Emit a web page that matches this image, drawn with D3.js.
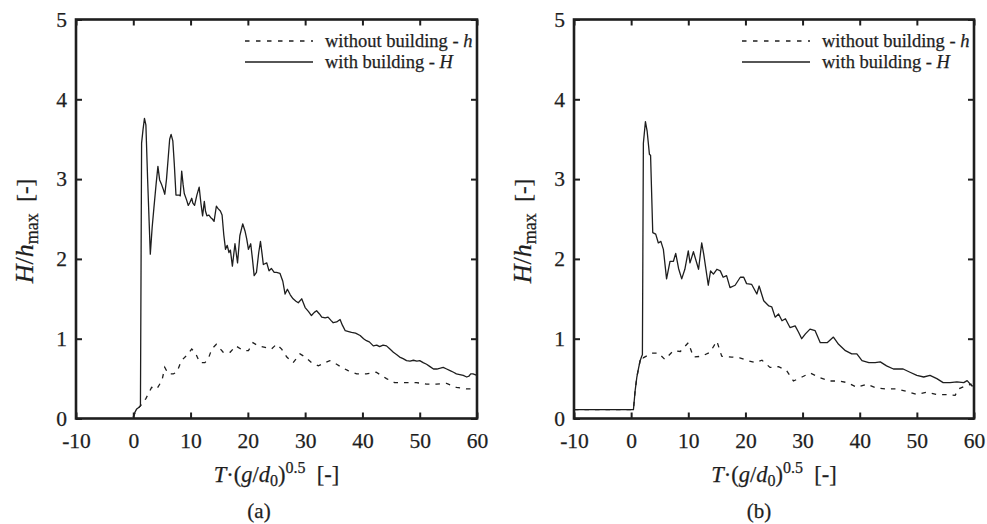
<!DOCTYPE html>
<html><head><meta charset="utf-8">
<script src="https://cdn.jsdelivr.net/npm/d3@7"></script>
<style>
body{margin:0;background:#fff;}
text{font-family:"Liberation Serif","Times New Roman","DejaVu Serif",serif;fill:#1e1e1e;stroke:#1e1e1e;stroke-width:0.25px;}
</style></head><body>
<svg id="c" width="987" height="524" xmlns="http://www.w3.org/2000/svg"></svg>
<script>
// ---------- data ----------
const xTicks = [-10, 0, 10, 20, 30, 40, 50, 60];
const yTicks = [0, 1, 2, 3, 4, 5];
const legendText = ["without building - ", "with building - "];
const legendSymbol = ["h", "H"];
const panelLabels = ["(a)", "(b)"];

// panel (a): with building H (solid)
const aWith = [[0,0.02],[0.3,0.08],[0.6,0.12],[1.0,0.14],[1.25,0.16],[1.45,3.45],[1.7,3.62],[1.95,3.76],[2.2,3.68],[2.5,3.0],[2.97,2.06],[3.3,2.4],[3.6,2.64],[4.0,2.95],[4.3,3.16],[4.6,2.99],[4.9,2.94],[5.2,2.88],[5.5,2.81],[5.8,3.0],[6.1,3.27],[6.35,3.5],[6.6,3.56],[6.9,3.48],[7.15,3.2],[7.45,2.8],[8.0,2.8],[8.2,2.79],[8.45,3.1],[8.7,2.93],[8.9,2.82],[9.3,2.74],[9.6,2.67],[9.9,2.71],[10.2,2.76],[10.4,2.7],[10.7,2.67],[11.1,2.8],[11.5,2.9],[11.8,2.7],[12.1,2.54],[12.4,2.72],[12.6,2.6],[12.85,2.54],[13.2,2.55],[13.5,2.52],[13.8,2.5],[14.1,2.47],[14.5,2.66],[14.8,2.63],[15.2,2.6],[15.5,2.55],[15.8,2.3],[16.1,2.12],[16.4,2.17],[16.7,2.08],[16.95,2.11],[17.3,1.91],[17.75,2.19],[18.2,1.95],[18.6,2.29],[19.1,2.44],[19.5,2.35],[19.8,2.25],[20.1,2.12],[20.5,2.19],[20.8,2.0],[21.1,1.79],[21.5,1.83],[21.9,2.08],[22.2,2.22],[22.5,2.05],[22.7,1.93],[23.3,1.95],[23.7,1.85],[24.1,1.88],[24.6,1.83],[25.0,1.83],[25.6,1.82],[26.1,1.72],[26.5,1.56],[26.9,1.62],[27.4,1.55],[27.9,1.5],[28.4,1.47],[28.8,1.45],[29.4,1.5],[30.0,1.39],[30.6,1.34],[31.1,1.29],[31.6,1.33],[32.0,1.35],[32.5,1.31],[32.9,1.27],[33.5,1.26],[34.0,1.27],[34.5,1.23],[34.9,1.2],[35.5,1.21],[36.1,1.24],[36.5,1.17],[37.0,1.1],[37.6,1.09],[38.1,1.08],[38.8,1.07],[39.6,1.04],[40.2,1.0],[40.7,0.975],[41.2,0.96],[41.9,0.91],[42.5,0.92],[43.0,0.9],[43.6,0.92],[44.2,0.91],[44.8,0.87],[45.4,0.83],[46.0,0.8],[46.5,0.77],[47.1,0.75],[47.7,0.725],[48.3,0.72],[48.9,0.73],[49.5,0.72],[50.0,0.725],[50.6,0.7],[51.2,0.68],[51.8,0.65],[52.4,0.62],[53.0,0.62],[53.6,0.63],[54.1,0.64],[54.7,0.62],[55.3,0.6],[55.9,0.58],[56.4,0.56],[57.0,0.55],[57.6,0.54],[58.2,0.52],[58.6,0.53],[58.9,0.56],[59.3,0.56],[60,0.54]];

// panel (a): without building h (dashed)
const aWithout = [[0,0.02],[0.5,0.1],[1.0,0.14],[1.5,0.18],[2.2,0.25],[3.2,0.39],[4.1,0.37],[5.0,0.475],[5.5,0.64],[6.1,0.56],[7.0,0.56],[7.6,0.58],[8.4,0.725],[9.3,0.79],[10.2,0.87],[10.8,0.83],[11.6,0.7],[12.5,0.7],[13.1,0.75],[13.7,0.87],[14.5,0.93],[15.7,0.83],[16.9,0.83],[17.9,0.91],[19.2,0.85],[20.1,0.85],[20.9,0.95],[21.8,0.91],[23.0,0.89],[24.1,0.87],[25.0,0.93],[25.9,0.87],[26.8,0.77],[27.9,0.7],[29.1,0.81],[30.0,0.77],[31.1,0.7],[32.3,0.66],[33.5,0.7],[34.3,0.725],[35.5,0.68],[36.4,0.64],[37.5,0.6],[39.0,0.56],[40.7,0.56],[42.4,0.58],[43.3,0.54],[44.2,0.5],[45.6,0.45],[47.4,0.45],[49.4,0.45],[51.2,0.43],[52.9,0.43],[54.7,0.44],[56.4,0.39],[58.2,0.37],[59.6,0.37]];

// panel (b): with building H (solid)
const bWith = [[-10,0.11],[0.4,0.11],[0.7,0.35],[1.0,0.52],[1.3,0.63],[1.56,0.72],[1.85,0.78],[1.97,0.8],[2.14,3.45],[2.5,3.72],[2.8,3.6],[3.2,3.31],[3.4,3.3],[3.78,2.33],[4.3,2.31],[4.76,2.2],[5.2,2.22],[5.64,2.12],[6.2,1.75],[6.8,1.97],[7.4,1.97],[7.8,2.07],[8.3,1.88],[8.85,1.75],[9.4,1.87],[10.0,2.1],[10.3,1.95],[10.9,2.09],[11.8,1.87],[12.35,2.2],[12.7,2.06],[13.5,1.67],[13.9,1.85],[14.4,1.81],[15.0,1.87],[15.6,1.85],[16.1,1.77],[16.7,1.79],[17.3,1.64],[18.2,1.67],[19.1,1.77],[19.7,1.77],[20.2,1.69],[21.1,1.68],[22.0,1.56],[22.4,1.66],[23.2,1.475],[24.1,1.41],[24.6,1.4],[25.2,1.27],[25.8,1.31],[26.4,1.225],[27.0,1.25],[27.8,1.14],[28.7,1.16],[29.3,1.08],[29.85,1.0],[30.5,1.06],[31.3,1.12],[32.2,1.1],[33.1,0.95],[34.3,0.95],[35.4,1.02],[36.3,0.93],[37.5,0.85],[38.6,0.81],[39.5,0.81],[40.4,0.725],[41.6,0.7],[42.7,0.7],[43.6,0.71],[44.7,0.66],[45.9,0.62],[47.6,0.62],[48.8,0.58],[50.0,0.54],[51.2,0.52],[52.3,0.54],[53.5,0.5],[54.6,0.45],[55.8,0.45],[57.0,0.46],[58.2,0.45],[58.8,0.475],[59.6,0.41],[60,0.41]];

// panel (b): without building h (dashed)
const bWithout = [[-10,0.11],[0.4,0.11],[0.7,0.35],[1.0,0.52],[1.3,0.63],[1.56,0.72],[1.85,0.78],[2.1,0.76],[3.6,0.82],[4.8,0.82],[5.9,0.74],[7.4,0.85],[8.6,0.84],[10.0,0.95],[10.9,0.77],[12.35,0.78],[13.8,0.83],[15.0,0.97],[15.85,0.78],[17.6,0.77],[19.0,0.76],[20.2,0.73],[21.7,0.7],[22.9,0.73],[24.3,0.64],[25.8,0.65],[27.2,0.6],[28.4,0.47],[29.9,0.52],[31.3,0.57],[33.1,0.51],[34.8,0.47],[36.3,0.47],[37.8,0.45],[39.5,0.39],[41.2,0.43],[43.0,0.38],[44.7,0.37],[46.5,0.37],[48.2,0.34],[50.0,0.3],[51.7,0.33],[53.5,0.3],[55.2,0.3],[56.7,0.29],[57.3,0.37],[58.5,0.41],[59.6,0.43]];

// ---------- drawing ----------
const svg = d3.select("#c");
const INK = "#1e1e1e";

const panels = [
  {l: 76, r: 477, t: 19.5, b: 418.5, withD: aWith, withoutD: aWithout, label: panelLabels[0], labelX: 259},
  {l: 574, r: 974, t: 19.5, b: 418.5, withD: bWith, withoutD: bWithout, label: panelLabels[1], labelX: 759}
];

panels.forEach(p => {
  const g = svg.append("g");
  const x = d3.scaleLinear().domain([-10, 60]).range([p.l, p.r]);
  const y = d3.scaleLinear().domain([0, 5]).range([p.b, p.t]);

  const styleAxis = sel => {
    sel.attr("font-family", null).attr("font-size", null);
    sel.select(".domain").remove();
    sel.selectAll(".tick line").attr("stroke", INK).attr("stroke-width", 2);
    sel.selectAll(".tick text").attr("font-size", 21.5).attr("fill", INK);
  };

  g.append("g").attr("transform", `translate(0,${p.b})`)
    .call(d3.axisBottom(x).tickValues(xTicks).tickSize(-6).tickPadding(14).tickFormat(d => String(d)))
    .call(styleAxis);
  g.append("g").attr("transform", `translate(0,${p.t})`)
    .call(d3.axisTop(x).tickValues(xTicks).tickSize(-6).tickFormat(""))
    .call(styleAxis);
  g.append("g").attr("transform", `translate(${p.l},0)`)
    .call(d3.axisLeft(y).tickValues(yTicks).tickSize(-6).tickPadding(9).tickFormat(d => String(d)))
    .call(styleAxis);
  g.append("g").attr("transform", `translate(${p.r},0)`)
    .call(d3.axisRight(y).tickValues(yTicks).tickSize(-6).tickFormat(""))
    .call(styleAxis);

  const line = d3.line().x(d => x(d[0])).y(d => y(d[1]));

  g.append("path").datum(p.withoutD).attr("d", line)
    .attr("fill", "none").attr("stroke", INK).attr("stroke-width", 1.3)
    .attr("stroke-dasharray", "4.5,6");
  g.append("path").datum(p.withD).attr("d", line)
    .attr("fill", "none").attr("stroke", INK).attr("stroke-width", 1.3)
    .attr("stroke-linejoin", "round");

  // frame
  g.append("rect").attr("x", p.l).attr("y", p.t).attr("width", p.r - p.l).attr("height", p.b - p.t)
    .attr("fill", "none").attr("stroke", INK).attr("stroke-width", 2.6);

  // legend
  const lx0 = p.r - 232, lx1 = p.r - 164, tx = p.r - 152;
  const legY = [41, 62], legBase = [46.5, 67.5];
  [0, 1].forEach(i => {
    g.append("line").attr("x1", lx0).attr("x2", lx1).attr("y1", legY[i]).attr("y2", legY[i])
      .attr("stroke", INK).attr("stroke-width", 1.3)
      .attr("stroke-dasharray", i === 0 ? "4.5,6.5" : null);
    const t = g.append("text").attr("x", tx).attr("y", legBase[i]).attr("font-size", 18.5);
    t.append("tspan").text(legendText[i]);
    t.append("tspan").attr("font-style", "italic").text(legendSymbol[i]);
  });

  // y axis title
  const cx = (p.l + p.r) / 2;
  const yt = g.append("text").attr("transform", `translate(${p.l - 43},231) rotate(-90)`)
    .attr("text-anchor", "middle").attr("font-size", 26);
  yt.append("tspan").attr("font-style", "italic").text("H");
  yt.append("tspan").text("/");
  yt.append("tspan").attr("font-style", "italic").text("h");
  yt.append("tspan").attr("font-size", 18).attr("dy", 5).text("max");
  yt.append("tspan").attr("dy", -5).attr("font-size", 23).text("\u00a0\u00a0[-]");

  // x axis title
  const xt = g.append("text").attr("x", cx).attr("y", 482).attr("text-anchor", "middle").attr("font-size", 22.5);
  xt.append("tspan").attr("font-style", "italic").text("T");
  xt.append("tspan").text("\u00b7(");
  xt.append("tspan").attr("font-style", "italic").text("g");
  xt.append("tspan").text("/");
  xt.append("tspan").attr("font-style", "italic").text("d");
  xt.append("tspan").attr("font-size", 16).attr("dy", 4).text("0");
  xt.append("tspan").attr("dy", -4).text(")");
  xt.append("tspan").attr("font-size", 16).attr("dy", -9).text("0.5");
  xt.append("tspan").attr("dy", 9).text("\u00a0\u00a0[-]");

  // panel label
  g.append("text").attr("x", p.labelX).attr("y", 518).attr("text-anchor", "middle")
    .attr("font-size", 21).text(p.label);
});
</script>
</body></html>
